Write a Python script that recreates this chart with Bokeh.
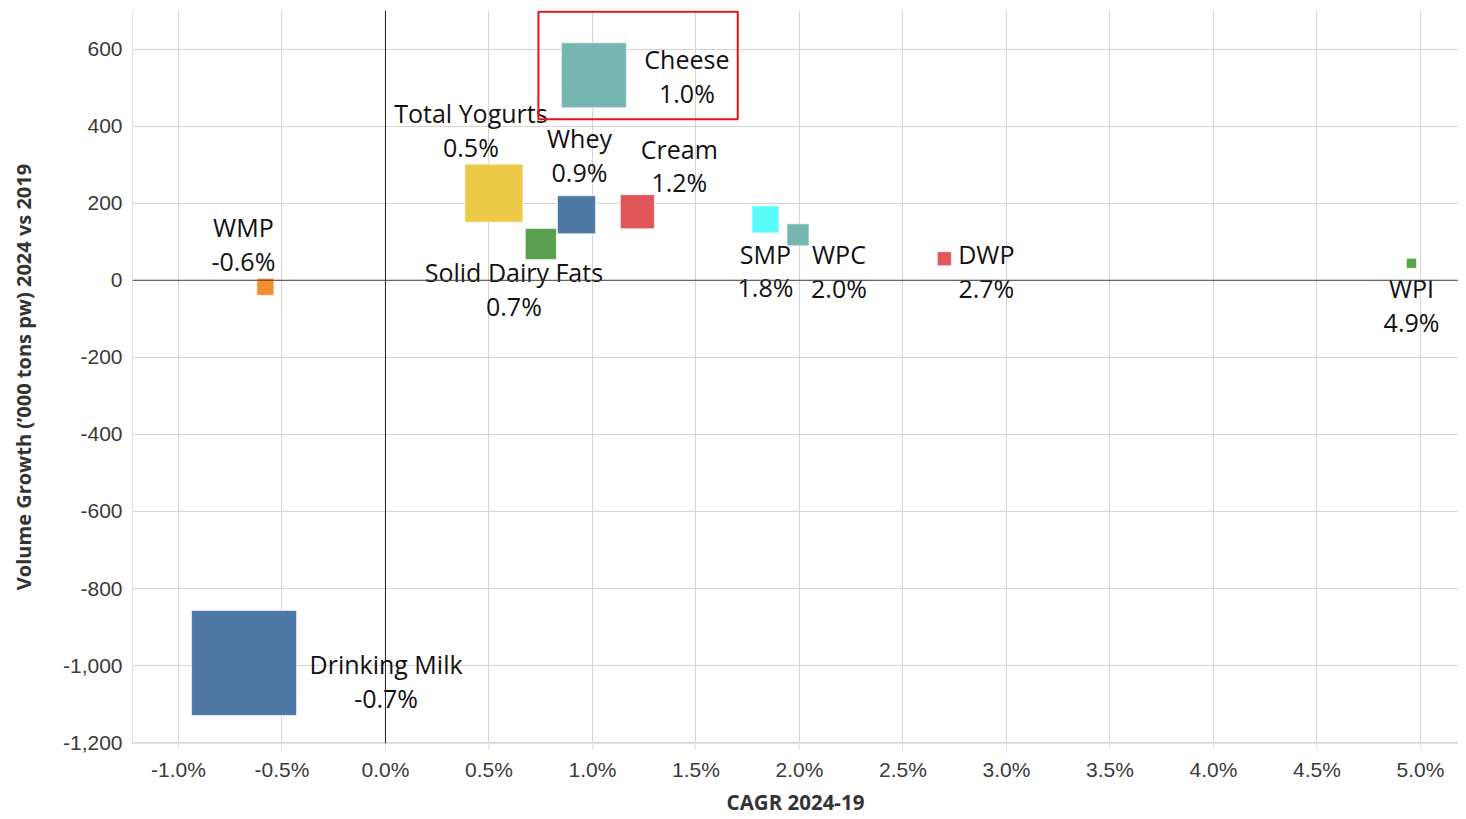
from bokeh.plotting import figure
from bokeh.models import (ColumnDataSource, Range1d, FixedTicker, PrintfTickFormatter,
                          NumeralTickFormatter, Span, BoxAnnotation)
from bokeh.core.properties import value
from bokeh.embed import file_html
from bokeh.resources import INLINE

# ---------------- data ----------------
products = ["Cheese", "Total Yogurts", "Whey", "Cream", "Solid Dairy Fats", "SMP",
            "WPC", "DWP", "WPI", "WMP", "Drinking Milk"]
cagr = [1.007, 0.524, 0.923, 1.217, 0.751, 1.836, 1.993, 2.70, 4.957, -0.58, -0.683]
cagr_labels = ["1.0%", "0.5%", "0.9%", "1.2%", "0.7%", "1.8%", "2.0%", "2.7%",
               "4.9%", "-0.6%", "-0.7%"]
volume_growth = [532, 226, 170, 178, 94, 158, 118, 56, 44, -17, -993]
bubble_size = [65, 58, 38, 34, 31, 27, 22, 14, 10, 17, 105]
colors = ["#76b7b2", "#edc948", "#4e79a7", "#e15759", "#59a14f", "#5afcfc",
          "#76b7b2", "#e15759", "#59a14f", "#f28e2b", "#4e79a7"]

x_ticks = [-1.0, -0.5, 0.0, 0.5, 1.0, 1.5, 2.0, 2.5, 3.0, 3.5, 4.0, 4.5, 5.0]
y_ticks = [-1200, -1000, -800, -600, -400, -200, 0, 200, 400, 600]

x_title = "CAGR 2024-19"
y_title = "Volume Growth (\u2019000 tons pw) 2024 vs 2019"

# highlight box around Cheese (data coordinates)
highlight = dict(left=0.739, right=1.702, bottom=418, top=697)

# label placement (screen px relative to marker centre)
label_dx = [93, -23, 3, 42, -27, 0, 41, 42, 0, -22, 142]
label_dy = [1, -63, -60, -46, 45, 51, 36, 12, 42, -43, 18]

# ---------------- figure ----------------
src = ColumnDataSource(dict(
    x=cagr, y=volume_growth, size=bubble_size, color=colors,
    label=[f"{n}\n{c}" for n, c in zip(products, cagr_labels)],
    dx=label_dx, dy=label_dy,
))

p = figure(width=1458, height=818, output_backend="svg", toolbar_location=None,
           x_range=Range1d(-1.222, 5.184), y_range=Range1d(-1202, 700),
           min_border_left=132, min_border_right=0, min_border_top=10,
           min_border_bottom=75)
p.outline_line_color = None
p.background_fill_color = "white"

p.xaxis.ticker = FixedTicker(ticks=x_ticks)
p.yaxis.ticker = FixedTicker(ticks=y_ticks)
p.xaxis.formatter = PrintfTickFormatter(format="%.1f%%")
p.yaxis.formatter = NumeralTickFormatter(format="0,0")

for ax in (p.xaxis, p.yaxis):
    ax.major_label_text_font = "Liberation Sans"
    ax.major_label_text_font_size = "21px"
    ax.major_label_text_color = "#3a3a3a"
    ax.axis_line_color = "#e3e3e3"
    ax.minor_tick_line_color = None
    ax.axis_label_text_font = "Open Sans"
    ax.axis_label_text_font_style = "bold"
    ax.axis_label_text_color = "#333333"

p.xaxis.major_tick_line_color = "#e3e3e3"
p.xaxis.major_tick_in = 0
p.xaxis.major_tick_out = 6
p.xaxis.major_label_standoff = 8
p.xaxis.axis_label = x_title
p.xaxis.axis_label_text_font_size = "20.5px"
p.xaxis.axis_label_standoff = 4

p.yaxis.major_tick_line_color = None
p.yaxis.major_tick_in = 0
p.yaxis.major_tick_out = 0
p.yaxis.major_label_standoff = 10
p.yaxis.axis_label = y_title
p.yaxis.axis_label_text_font_size = "20px"
p.yaxis.axis_label_standoff = 23

p.grid.grid_line_color = "#d4d4d4"
p.grid.grid_line_width = 1

p.add_layout(Span(location=0, dimension="height", line_color="#222222", line_width=1))
p.add_layout(Span(location=0, dimension="width", line_color="#444444", line_width=1))

p.scatter("x", "y", source=src, marker="square", size="size", fill_color="color",
          line_color="white", line_alpha=0.6, line_width=1)

p.text("x", "y", text="label", source=src, x_offset="dx", y_offset="dy",
       text_align="center", text_baseline="middle", text_font=value("Open Sans"),
       text_font_size="25px", text_color="#111111", text_line_height=0.99)

p.add_layout(BoxAnnotation(left=highlight["left"], right=highlight["right"],
                           bottom=highlight["bottom"], top=highlight["top"],
                           fill_alpha=0, line_color="#ee1111", line_alpha=1.0,
                           line_width=2))

open("out.html", "w").write(file_html(p, INLINE))
